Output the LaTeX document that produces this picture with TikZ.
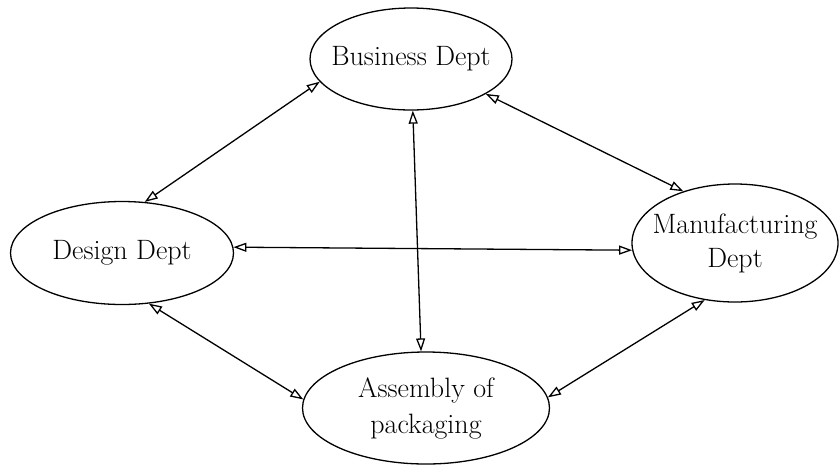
\documentclass[tikz,border=0pt]{standalone}
\usepackage{tikz}
\usetikzlibrary{arrows.meta,shapes.geometric}

\begin{document}
\begin{tikzpicture}[x=1pt,y=-1pt,font=\fontsize{28}{34}\selectfont,line width=1.3pt,
 >={Triangle[open,length=13pt,width=9pt]},
 dept/.style={draw,ellipse,inner sep=0pt},
 dname/.style={label={[align=center]center:#1}},
 link/.style={<->}]
\useasboundingbox (0,0) rectangle (840,467);
\node[dept,minimum width=202pt,minimum height=102pt,dname={Business Dept}] (bus) at (411,59) {};
\node[dept,minimum width=223pt,minimum height=103pt,dname={Design Dept}] (des) at (122,253) {};
\node[dept,minimum width=206pt,minimum height=118pt,dname={Manufacturing\\Dept}] (man) at (735,243) {};
\node[dept,minimum width=247pt,minimum height=112pt,dname={Assembly of\\[2pt]packaging}] (asm) at (426,408) {};
% links between the departments
\draw[link] (bus.194) -- (des.66);
\draw[link] (bus.272) -- (asm.95);
\draw[link] (bus.335) -- (man.135);
\draw[link] (des.3) -- (man.184);
\draw[link] (des.298) -- (asm.176);
\draw[link] (asm.5) -- (man.242);
\end{tikzpicture}
\end{document}
